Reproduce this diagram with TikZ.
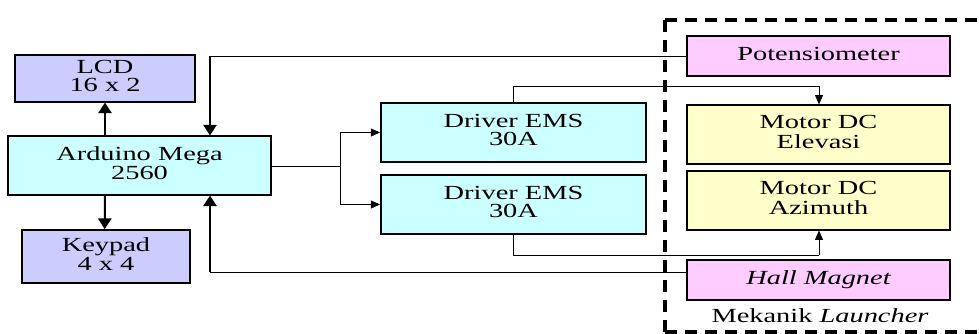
\documentclass[tikz,border=0pt]{standalone}
\usepackage{fontspec}
\setmainfont{Liberation Serif}
\usetikzlibrary{arrows.meta}
\definecolor{lav}{HTML}{CCCCFF}
\definecolor{cyn}{HTML}{CCFFFF}
\definecolor{pnk}{HTML}{FFCCFF}
\definecolor{ylw}{HTML}{FFFFCC}
\newcommand{\sx}[1]{\scalebox{1.42}[1]{\begin{tabular}{@{}c@{}}#1\end{tabular}}}
\begin{document}
\begin{tikzpicture}[x=0.75pt,y=-0.75pt,
  blk/.style={draw=black,line width=1.1pt,inner sep=0pt,font=\fontsize{15}{13}\selectfont},
  big/.style={line width=1.5pt,-{Triangle[width=10pt,length=8pt]}},
  thin/.style={line width=0.7pt,-{Triangle[width=6pt,length=7pt]}},
  plain/.style={line width=0.7pt}]
\useasboundingbox (0,0) rectangle (979,334);
\node[blk,fill=lav,minimum width=135pt,minimum height=35pt] (lcd) at (105,78.5) {\sx{LCD\\16 x 2}};
\node[blk,fill=cyn,minimum width=197pt,minimum height=44pt] (ard) at (139.5,165.5) {\sx{Arduino Mega\\2560}};
\node[blk,fill=lav,minimum width=126pt,minimum height=40pt] (key) at (106,256.5) {\sx{Keypad\\4 x 4}};
\node[blk,fill=cyn,minimum width=199pt,minimum height=44pt] (d1) at (513.5,132.5) {\sx{Driver EMS\\30A}};
\node[blk,fill=cyn,minimum width=199pt,minimum height=44pt] (d2) at (513.5,204.5) {\sx{Driver EMS\\30A}};
\node[blk,fill=pnk,minimum width=197pt,minimum height=30pt] (pot) at (818.5,56) {\sx{Potensiometer}};
\node[blk,fill=ylw,minimum width=197pt,minimum height=44pt] (me) at (818.5,134.5) {\sx{Motor DC\\Elevasi}};
\node[blk,fill=ylw,minimum width=197pt,minimum height=44pt] (ma) at (818.5,200.5) {\sx{Motor DC\\Azimuth}};
\node[blk,fill=pnk,minimum width=197pt,minimum height=30pt] (hall) at (818.5,280) {\sx{\itshape Hall Magnet}};
\node[font=\fontsize{15}{13}\selectfont] (mek) at (820,318) {\sx{Mekanik \textit{Launcher}}};
\draw[line width=2.4pt,dash pattern=on 9pt off 6pt] (665,20) -- (990,20);
\draw[line width=2.4pt,dash pattern=on 9pt off 6pt] (665,332) -- (665,20);
\draw[line width=2.4pt,dash pattern=on 9pt off 6pt] (665,332) -- (990,332);
\draw[big] (ard.north -| lcd.south) -- (lcd.south);
\draw[big] (ard.south -| key.north) ++(-1,0) -- ([xshift=-1]key.north);
\coordinate (pj) at (210,56);
\coordinate (hj) at (210,272);
\draw[plain] (pot.west) -- (pj);
\draw[big] (pj) -- (ard.north -| pj);
\draw[plain] (hall.west |- hj) -- (hj);
\draw[big] (hj) -- (ard.south -| hj);
\coordinate (sp) at (340,166);
\draw[plain] (ard.east |- sp) -- (sp);
\draw[thin] (sp) |- (d1.west);
\draw[thin] (sp) |- (d2.west);
\coordinate (t1) at (513.5,86);
\coordinate (t2) at (819,86);
\draw[plain] (d1.north) -- (t1) -- (t2);
\draw[thin] (t2) -- (me.north -| t2);
\coordinate (b1) at (513.5,255);
\coordinate (b2) at (819,255);
\draw[plain] (d2.south) -- (b1) -- (b2);
\draw[thin] (b2) -- (ma.south -| b2);
\end{tikzpicture}
\end{document}
